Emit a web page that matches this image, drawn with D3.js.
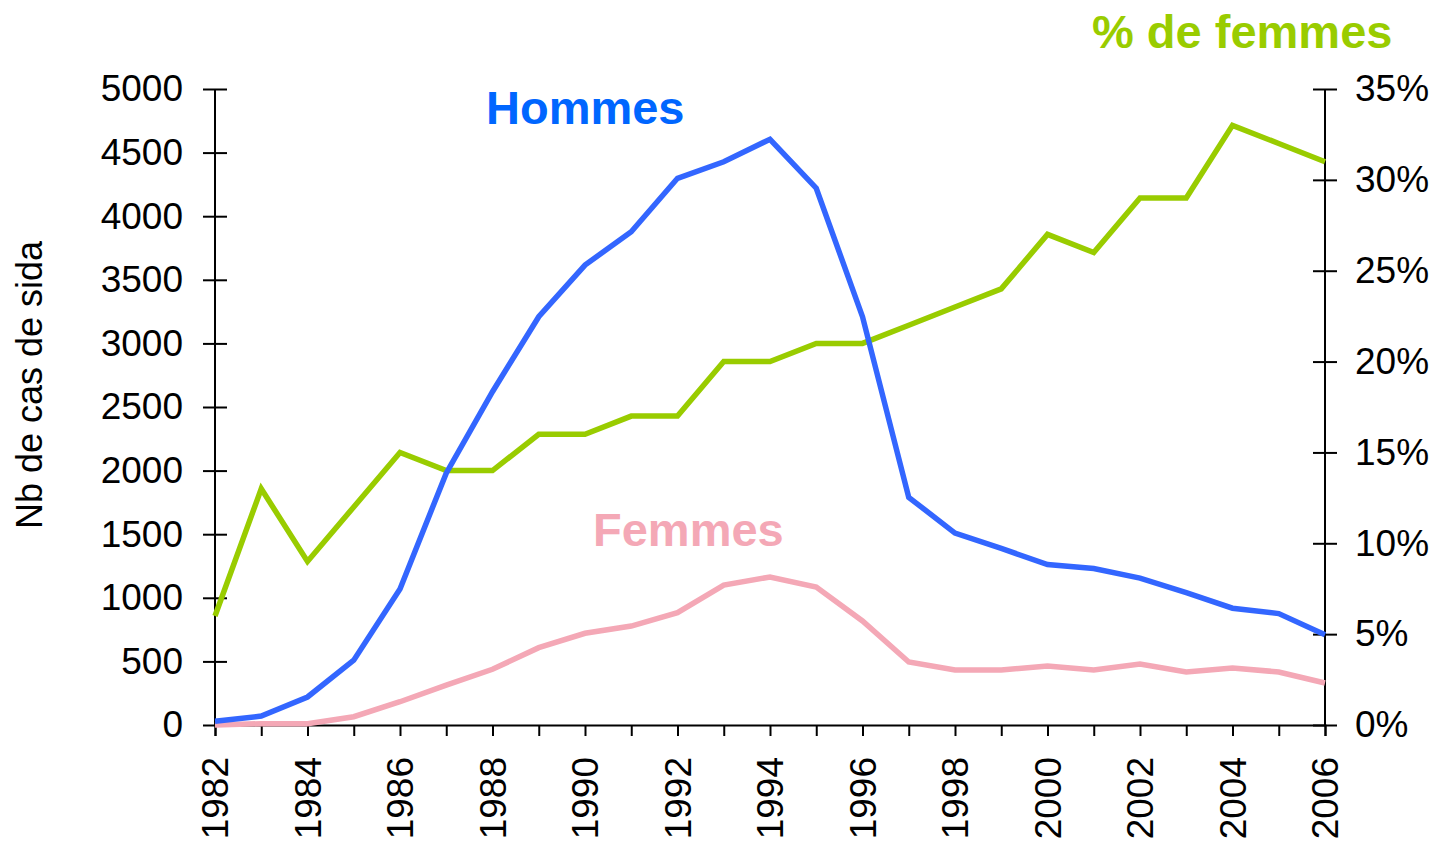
<!DOCTYPE html>
<html><head><meta charset="utf-8">
<script src="https://cdn.jsdelivr.net/npm/d3@7"></script>
<style>body{margin:0;background:#fff}svg{display:block}text{font-family:Arial,"Liberation Sans",sans-serif}</style>
</head><body><svg id="c" width="1435" height="845"></svg>
<script>
const years = d3.range(1982, 2007);
const hommes = [30,70,220,510,1070,1980,2620,3210,3616,3878,4298,4428,4605,4220,3210,1790,1509,1388,1262,1230,1155,1040,918,876,710];
const femmes = [0,10,10,65,183,314,438,608,721,778,883,1100,1164,1085,818,495,432,432,464,432,480,417,448,417,330];
const pctFemmes = [6,13,9,12,15,14,14,16,16,17,17,20,20,21,21,22,23,24,27,26,29,29,33,32,31];
const leftTicks = d3.range(0, 5001, 500);
const rightTicks = [0,5,10,15,20,25,30,35];
const xLabelYears = d3.range(1982, 2007, 2);

const svg = d3.select("#c");
const x = d3.scaleLinear().domain([1982, 2006]).range([215, 1325]);
const yL = d3.scaleLinear().domain([0, 5000]).range([725, 89]);
const yR = d3.scaleLinear().domain([0, 35]).range([725, 89]);

// axes
const gx = svg.append("g").attr("transform","translate(0,725)")
  .call(d3.axisBottom(x).tickValues(years).tickSize(11).tickFormat(""));
gx.select(".domain").attr("stroke","#000").attr("stroke-width",2);
gx.selectAll(".tick line").attr("stroke","#000").attr("stroke-width",2);
gx.selectAll(".xl").data(xLabelYears).enter().append("text")
  .attr("transform", d => `translate(${x(d)},32) rotate(-90)`)
  .attr("text-anchor","end").attr("dy","0.36em")
  .attr("font-size",37).attr("fill","#000").text(d => d);

const gl = svg.append("g").attr("transform","translate(215,0)")
  .call(d3.axisLeft(yL).tickValues(leftTicks).tickSize(12).tickPadding(20).tickFormat(d3.format("d")));
gl.select(".domain").attr("stroke","#000").attr("stroke-width",2).attr("d","M0,89V725");
gl.selectAll(".tick line").attr("stroke","#000").attr("stroke-width",2).attr("x1",12);
gl.selectAll(".tick text").attr("font-size",37).attr("font-family","Arial, 'Liberation Sans', sans-serif").attr("fill","#000");

const gr = svg.append("g").attr("transform","translate(1325,0)")
  .call(d3.axisRight(yR).tickValues(rightTicks).tickSize(12).tickPadding(18).tickFormat(d => d + "%"));
gr.select(".domain").attr("stroke","#000").attr("stroke-width",2).attr("d","M0,89V725");
gr.selectAll(".tick line").attr("stroke","#000").attr("stroke-width",2).attr("x1",-12);
gr.selectAll(".tick text").attr("font-size",37).attr("font-family","Arial, 'Liberation Sans', sans-serif").attr("fill","#000");

// lines
const lineL = d3.line().x((d,i) => x(years[i])).y(d => yL(d));
const lineR = d3.line().x((d,i) => x(years[i])).y(d => yR(d));
svg.append("path").datum(pctFemmes).attr("d", lineR).attr("fill","none").attr("stroke","#99CC00").attr("stroke-width",5.5);
svg.append("path").datum(femmes).attr("d", lineL).attr("fill","none").attr("stroke","#F4A8B6").attr("stroke-width",5.5);
svg.append("path").datum(hommes).attr("d", lineL).attr("fill","none").attr("stroke","#3366FF").attr("stroke-width",5.5);

// labels
svg.append("text").attr("x",486).attr("y",124).attr("font-size",47).attr("font-weight","bold").attr("fill","#0066FF").text("Hommes");
svg.append("text").attr("x",593).attr("y",546).attr("font-size",47).attr("font-weight","bold").attr("fill","#F4A8B6").text("Femmes");
svg.append("text").attr("x",1092).attr("y",48).attr("font-size",47).attr("font-weight","bold").attr("fill","#99CC00").text("% de femmes");
svg.append("text").attr("transform","translate(42,385) rotate(-90)").attr("text-anchor","middle")
  .attr("font-size",36).attr("fill","#000").text("Nb de cas de sida");
</script></body></html>
